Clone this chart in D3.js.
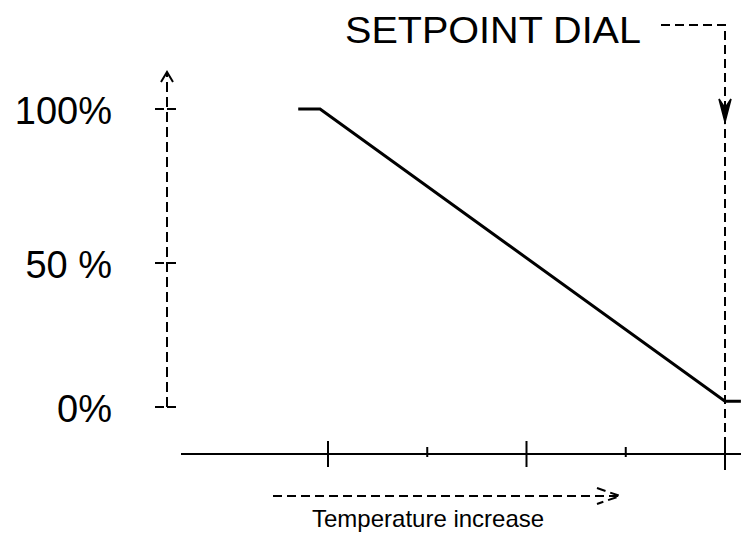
<!DOCTYPE html>
<html>
<head>
<meta charset="utf-8">
<script src="https://cdn.jsdelivr.net/npm/d3@7/dist/d3.min.js"></script>
<style>
  body { margin: 0; background: #fff; }
  text { font-family: "Liberation Sans", Arial, sans-serif; fill: #000; }
</style>
</head>
<body>
<div id="plot"></div>
<script>
// y axis levels and labels
var levels = [0, 50, 100];
var levelLabels = ["0%", "50 %", "100%"];

// x ticks (temperature steps), major ones get the long tick
var xTicks = [0, 1, 2, 3, 4];
var majorTicks = [0, 2, 4];
var setpoint = 4;

// the output line: temperature step vs percent
var lineX = [-0.3, -0.08, 4, 4.16];
var lineY = [100, 100, 2, 2];

var width = 741, height = 537;

var svg = d3.select("#plot")
  .append("svg")
  .attr("width", width)
  .attr("height", height);

var x = d3.scaleLinear()
  .domain([0, 4])
  .range([328, 725]);

var y = d3.scaleLinear()
  .domain([0, 50, 100])
  .range([407, 263, 109]);

var axisX = 167;   // y axis position
var baseY = 454;   // x axis position

// y axis, dashed with open arrow
svg.append("line")
  .attr("x1", axisX).attr("x2", axisX)
  .attr("y1", y(0)).attr("y2", 74)
  .attr("stroke", "#000").attr("stroke-width", 2)
  .attr("stroke-dasharray", "10,5");

svg.append("path")
  .attr("d", "M" + (axisX - 6) + ",82 L" + axisX + ",72 L" + (axisX + 6) + ",82")
  .attr("fill", "none").attr("stroke", "#000").attr("stroke-width", 2);

// y ticks
svg.selectAll(".ytick")
  .data(levels)
  .enter().append("line")
  .attr("class", "ytick")
  .attr("x1", axisX - 12).attr("x2", axisX + 11)
  .attr("y1", function(d) { return y(d); })
  .attr("y2", function(d) { return y(d); })
  .attr("stroke", "#000").attr("stroke-width", 2)
  .attr("stroke-dasharray", "9,3");

svg.selectAll(".ylabel")
  .data(levels)
  .enter().append("text")
  .attr("class", "ylabel")
  .attr("x", 112)
  .attr("y", function(d) { return y(d) + 15; })
  .attr("text-anchor", "end")
  .style("font-size", "38px")
  .text(function(d, i) { return levelLabels[i]; });

// x axis line
svg.append("line")
  .attr("x1", 181).attr("x2", width)
  .attr("y1", baseY).attr("y2", baseY)
  .attr("stroke", "#000").attr("stroke-width", 2);

svg.selectAll(".xtick")
  .data(xTicks)
  .enter().append("line")
  .attr("class", "xtick")
  .attr("x1", function(d) { return x(d); })
  .attr("x2", function(d) { return x(d); })
  .attr("y1", function(d) { return majorTicks.indexOf(d) >= 0 ? baseY - 13 : baseY - 7; })
  .attr("y2", function(d) { return majorTicks.indexOf(d) >= 0 ? baseY + 13 : baseY + 3; })
  .attr("stroke", "#000").attr("stroke-width", 2);

// setpoint dashed marker
svg.append("path")
  .attr("d", "M661,25 L" + x(setpoint) + ",25 L" + x(setpoint) + ",470")
  .attr("fill", "none").attr("stroke", "#000").attr("stroke-width", 2)
  .attr("stroke-dasharray", "9,5");

svg.append("path")
  .attr("d", "M" + (x(setpoint) - 6) + ",99 L" + x(setpoint) + ",122 L" + (x(setpoint) + 6) + ",99 L" + x(setpoint) + ",108 Z")
  .attr("fill", "#000").attr("stroke", "#000").attr("stroke-width", 1.5)
  .attr("stroke-linejoin", "miter");

svg.append("text")
  .attr("x", 345)
  .attr("y", 43)
  .attr("textLength", 296)
  .attr("lengthAdjust", "spacingAndGlyphs")
  .style("font-size", "37px")
  .text("SETPOINT DIAL");

// the response line
var pts = lineX.map(function(d, i) { return [x(d), y(lineY[i])]; });
svg.append("path")
  .attr("d", d3.line()(pts))
  .attr("fill", "none")
  .attr("stroke", "#000")
  .attr("stroke-width", 3);

// temperature arrow
svg.append("line")
  .attr("x1", 273).attr("x2", 618)
  .attr("y1", 496).attr("y2", 496)
  .attr("stroke", "#000").attr("stroke-width", 2)
  .attr("stroke-dasharray", "9,5");

svg.append("path")
  .attr("d", "M597,488 L620,496 L597,504")
  .attr("fill", "none").attr("stroke", "#000").attr("stroke-width", 2)
  .attr("stroke-dasharray", "9,5");

svg.append("text")
  .attr("x", 312)
  .attr("y", 527)
  .style("font-size", "24px")
  .text("Temperature increase");
</script>
</body>
</html>
